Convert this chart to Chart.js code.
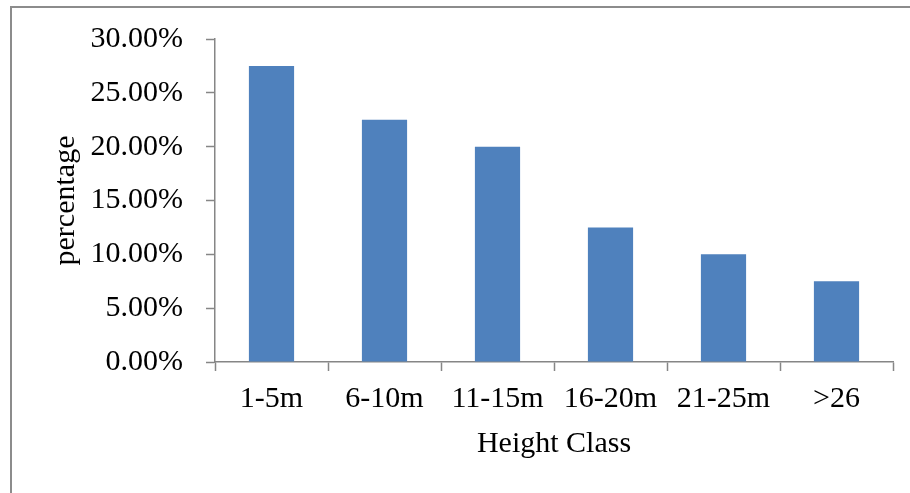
<!DOCTYPE html>
<html>
<head>
<meta charset="utf-8">
<script src="https://cdn.jsdelivr.net/npm/chart.js@4/dist/chart.umd.min.js"></script>
<style>
  body { margin: 0; background: #fff; }
  #frame {
    position: absolute; left: 10px; top: 6px; width: 1000px; height: 1000px;
    border-left: 2px solid #8c8c8c; border-top: 2px solid #8c8c8c;
  }
  #wrap { position: absolute; left: 0; top: 0; width: 910px; height: 493px; }
</style>
</head>
<body>
<div id="frame"></div>
<div id="wrap"><canvas id="chartCanvas" width="910" height="493"></canvas></div>
<script>
const categories = ["1-5m", "6-10m", "11-15m", "16-20m", "21-25m", ">26"];
const percentages = [27.5, 22.5, 20.0, 12.5, 10.0, 7.5];

const serif = "'Liberation Serif', 'Times New Roman', serif";
const axisGray = "#868686";

const ctx = document.getElementById("chartCanvas").getContext("2d");

new Chart(ctx, {
  type: "bar",
  data: {
    labels: categories,
    datasets: [
      {
        label: "percentage",
        data: percentages,
        backgroundColor: "#4f81bd",
        borderWidth: 0,
        barPercentage: 0.4,
        categoryPercentage: 1.0,
      },
    ],
  },
  options: {
    responsive: false,
    animation: false,
    layout: { padding: { left: 51, top: 39, right: 17, bottom: 31 } },
    plugins: { legend: { display: false }, tooltip: { enabled: false } },
    scales: {
      x: {
        offset: true,
        grid: {
          offset: true,
          drawOnChartArea: false,
          drawTicks: true,
          tickLength: 9,
          tickColor: axisGray,
          tickWidth: 1.5,
        },
        border: { display: true, color: axisGray, width: 1.5 },
        ticks: { color: "#000", font: { family: serif, size: 30 }, padding: 10, maxRotation: 0, autoSkip: false },
        title: {
          display: true,
          text: "Height Class",
          color: "#000",
          font: { family: serif, size: 30 },
          padding: { top: 0, bottom: 0 },
        },
        afterFit: (scale) => {
          scale.height = 100;
          scale.paddingLeft = 0;
          scale.paddingRight = 0;
        },
      },
      y: {
        min: 0,
        max: 30,
        ticks: {
          stepSize: 5,
          color: "#000",
          font: { family: serif, size: 30 },
          padding: 23,
          callback: (v) => v.toFixed(2) + "%",
        },
        grid: {
          drawOnChartArea: false,
          drawTicks: true,
          tickLength: 9,
          tickColor: axisGray,
          tickWidth: 1.5,
        },
        border: { display: true, color: axisGray, width: 1.5 },
        title: {
          display: true,
          text: "percentage",
          color: "#000",
          font: { family: serif, size: 30, lineHeight: 1 },
          padding: { top: 0, bottom: 0 },
        },
        afterFit: (scale) => {
          scale.width = 215 - 51;
          scale.paddingTop = 0;
          scale.paddingBottom = 0;
        },
      },
    },
  },
});
</script>
</body>
</html>
